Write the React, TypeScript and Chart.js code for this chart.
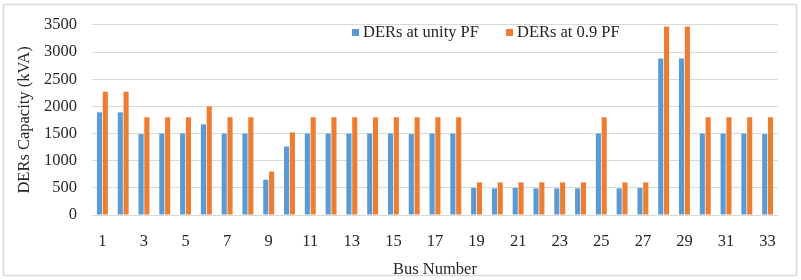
import React, { useEffect, useRef } from "react";
import { Chart, registerables } from "chart.js";

Chart.register(...registerables);

const busNumbers = Array.from({ length: 33 }, (_, i) => String(i + 1));
const unityPF = [1890, 1890, 1490, 1500, 1500, 1670, 1500, 1500, 650, 1260, 1500, 1500, 1500, 1500, 1500, 1490, 1500, 1500, 500, 490, 500, 490, 490, 490, 1500, 490, 500, 2880, 2880, 1500, 1500, 1500, 1490];
const pf09 = [2270, 2270, 1800, 1800, 1800, 2000, 1800, 1800, 800, 1520, 1800, 1800, 1800, 1800, 1800, 1800, 1800, 1800, 600, 600, 600, 600, 600, 600, 1800, 600, 600, 3470, 3470, 1800, 1800, 1800, 1800];
const seriesLabels = ["DERs at unity PF", "DERs at 0.9 PF"];
const seriesColors = ["#5B9BD5", "#ED7D31"];

const FONT = "'Liberation Serif', 'Times New Roman', serif";
const TEXT = "#262626";

const frameAndLegend = {
  id: "frameAndLegend",
  beforeDraw(chart: any) {
    const ctx = chart.ctx;
    ctx.save();
    ctx.fillStyle = "#ffffff";
    ctx.fillRect(0, 0, chart.width, chart.height);
    ctx.strokeStyle = "#d9d9d9";
    ctx.lineWidth = 1.5;
    ctx.strokeRect(3.5, 4.5, 793, 271);
    ctx.restore();
  },
  afterDraw(chart: any) {
    const ctx = chart.ctx;
    ctx.save();
    ctx.font = `16.5px ${FONT}`;
    ctx.textBaseline = "middle";
    ctx.textAlign = "left";
    const xs = [352, 506];
    chart.data.datasets.forEach((ds: any, i: number) => {
      ctx.fillStyle = ds.backgroundColor;
      ctx.fillRect(xs[i], 29, 7, 7);
      ctx.fillStyle = TEXT;
      ctx.fillText(ds.label, xs[i] + 11, 33);
    });
    ctx.restore();
  },
};

export default function App() {
  const ref = useRef<HTMLCanvasElement>(null);
  useEffect(() => {
    if (!ref.current) return;
    const chart = new Chart(ref.current, {
      type: "bar",
      data: {
        labels: busNumbers,
        datasets: [
          { label: seriesLabels[0], data: unityPF, backgroundColor: seriesColors[0], categoryPercentage: 0.56, barPercentage: 0.88 },
          { label: seriesLabels[1], data: pf09, backgroundColor: seriesColors[1], categoryPercentage: 0.56, barPercentage: 0.88 },
        ],
      },
      options: {
        responsive: false,
        animation: false,
        layout: { padding: { left: 0, top: 19, right: 23, bottom: 0 } },
        plugins: { legend: { display: false }, tooltip: { enabled: false } },
        scales: {
          x: {
            afterFit: (s: any) => { s.height = 65; },
            grid: { display: false, drawTicks: false },
            border: { display: true, color: "#d9d9d9", width: 1 },
            ticks: {
              autoSkip: false,
              maxRotation: 0,
              padding: 17,
              color: TEXT,
              font: { family: FONT, size: 16.5 },
              callback: (_v: any, i: number) => (i % 2 === 0 ? busNumbers[i] : ""),
            },
            title: { display: true, text: "Bus Number", color: TEXT, font: { family: FONT, size: 16.5 }, padding: { top: 8, bottom: 0 } },
          },
          y: {
            min: 0,
            max: 3500,
            afterFit: (s: any) => { s.width = 92; },
            grid: { color: "#d9d9d9", drawTicks: false },
            border: { display: false },
            ticks: { stepSize: 500, padding: 15, color: TEXT, font: { family: FONT, size: 16.5 }, callback: (v: any) => String(v) },
            title: { display: true, text: "DERs Capacity (kVA)", color: TEXT, font: { family: FONT, size: 16.5 }, padding: { top: 15, bottom: 0 } },
          },
        },
      },
      plugins: [frameAndLegend],
    });
    return () => chart.destroy();
  }, []);
  return (
    <div style={{ position: "absolute", left: 0, top: 0, width: 801, height: 280 }}>
      <canvas ref={ref} width={801} height={280} />
    </div>
  );
}
